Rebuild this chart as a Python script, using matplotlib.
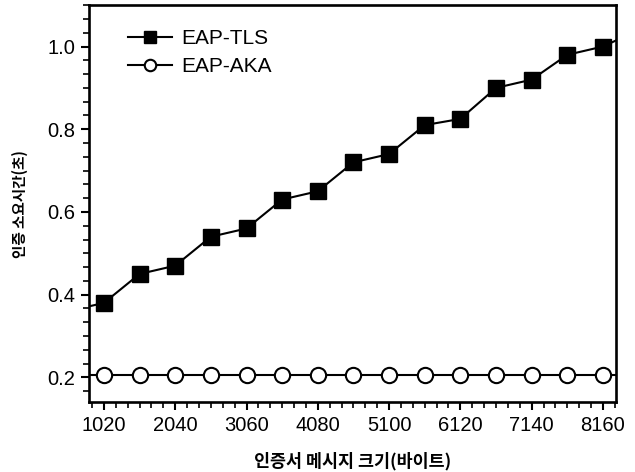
import matplotlib.pyplot as plt
from matplotlib.ticker import MultipleLocator

plt.rcParams['font.family'] = ['Liberation Sans', 'DejaVu Sans']

# message size (bytes); the first and last points lie outside the visible range
sizes = [510, 1020, 1530, 2040, 2550, 3060, 3570, 4080, 4590, 5100,
         5610, 6120, 6630, 7140, 7650, 8160, 8670]
eap_tls = [0.36, 0.38, 0.45, 0.47, 0.54, 0.56, 0.63, 0.65, 0.72, 0.74,
           0.81, 0.825, 0.90, 0.92, 0.98, 1.0, 1.04]
eap_aka = [0.205] * len(sizes)

xticks = [1020, 2040, 3060, 4080, 5100, 6120, 7140, 8160]
yticks = [0.2, 0.4, 0.6, 0.8, 1.0]

fig = plt.figure(figsize=(6.35, 4.72), dpi=100)
ax = fig.add_axes([0.140, 0.148, 0.830, 0.841])

ax.plot(sizes, eap_tls, color='black', lw=1.5, marker='s', ms=11,
        mfc='black', mec='black', label='EAP-TLS')
ax.plot(sizes, eap_aka, color='black', lw=1.5, marker='o', ms=11,
        mfc='white', mec='black', mew=1.5, label='EAP-AKA')

ax.set_xlim(805, 8346)
ax.set_ylim(0.14, 1.10)
ax.set_xticks(xticks)
ax.set_yticks(yticks)
ax.set_yticklabels(['%.1f' % v for v in yticks])
ax.xaxis.set_minor_locator(MultipleLocator(170))
ax.yaxis.set_minor_locator(MultipleLocator(0.2 / 6))
ax.tick_params(which='major', direction='out', length=6, width=1.5, labelsize=14.5, pad=4)
ax.tick_params(which='minor', direction='out', length=4, width=1.2)
ax.tick_params(top=False, right=False)
for s in ax.spines.values():
    s.set_linewidth(1.9)

kfont = ['Noto Sans CJK KR', 'DejaVu Sans']
ax.set_xlabel('인증서 메시지 크기(바이트)', family=kfont, fontweight='bold',
              fontsize=12.5, labelpad=12)
ax.set_ylabel('인증 소요시간(초)', family=kfont, fontweight='bold',
              fontsize=10.5, labelpad=14)

ax.legend(loc='upper left', bbox_to_anchor=(0.074, 0.94), frameon=False,
          fontsize=15, handlelength=2.1, handletextpad=0.45,
          labelspacing=0.45, borderpad=0, borderaxespad=0, numpoints=1,
          markerscale=0.75)

fig.savefig('out.png', dpi=100)
